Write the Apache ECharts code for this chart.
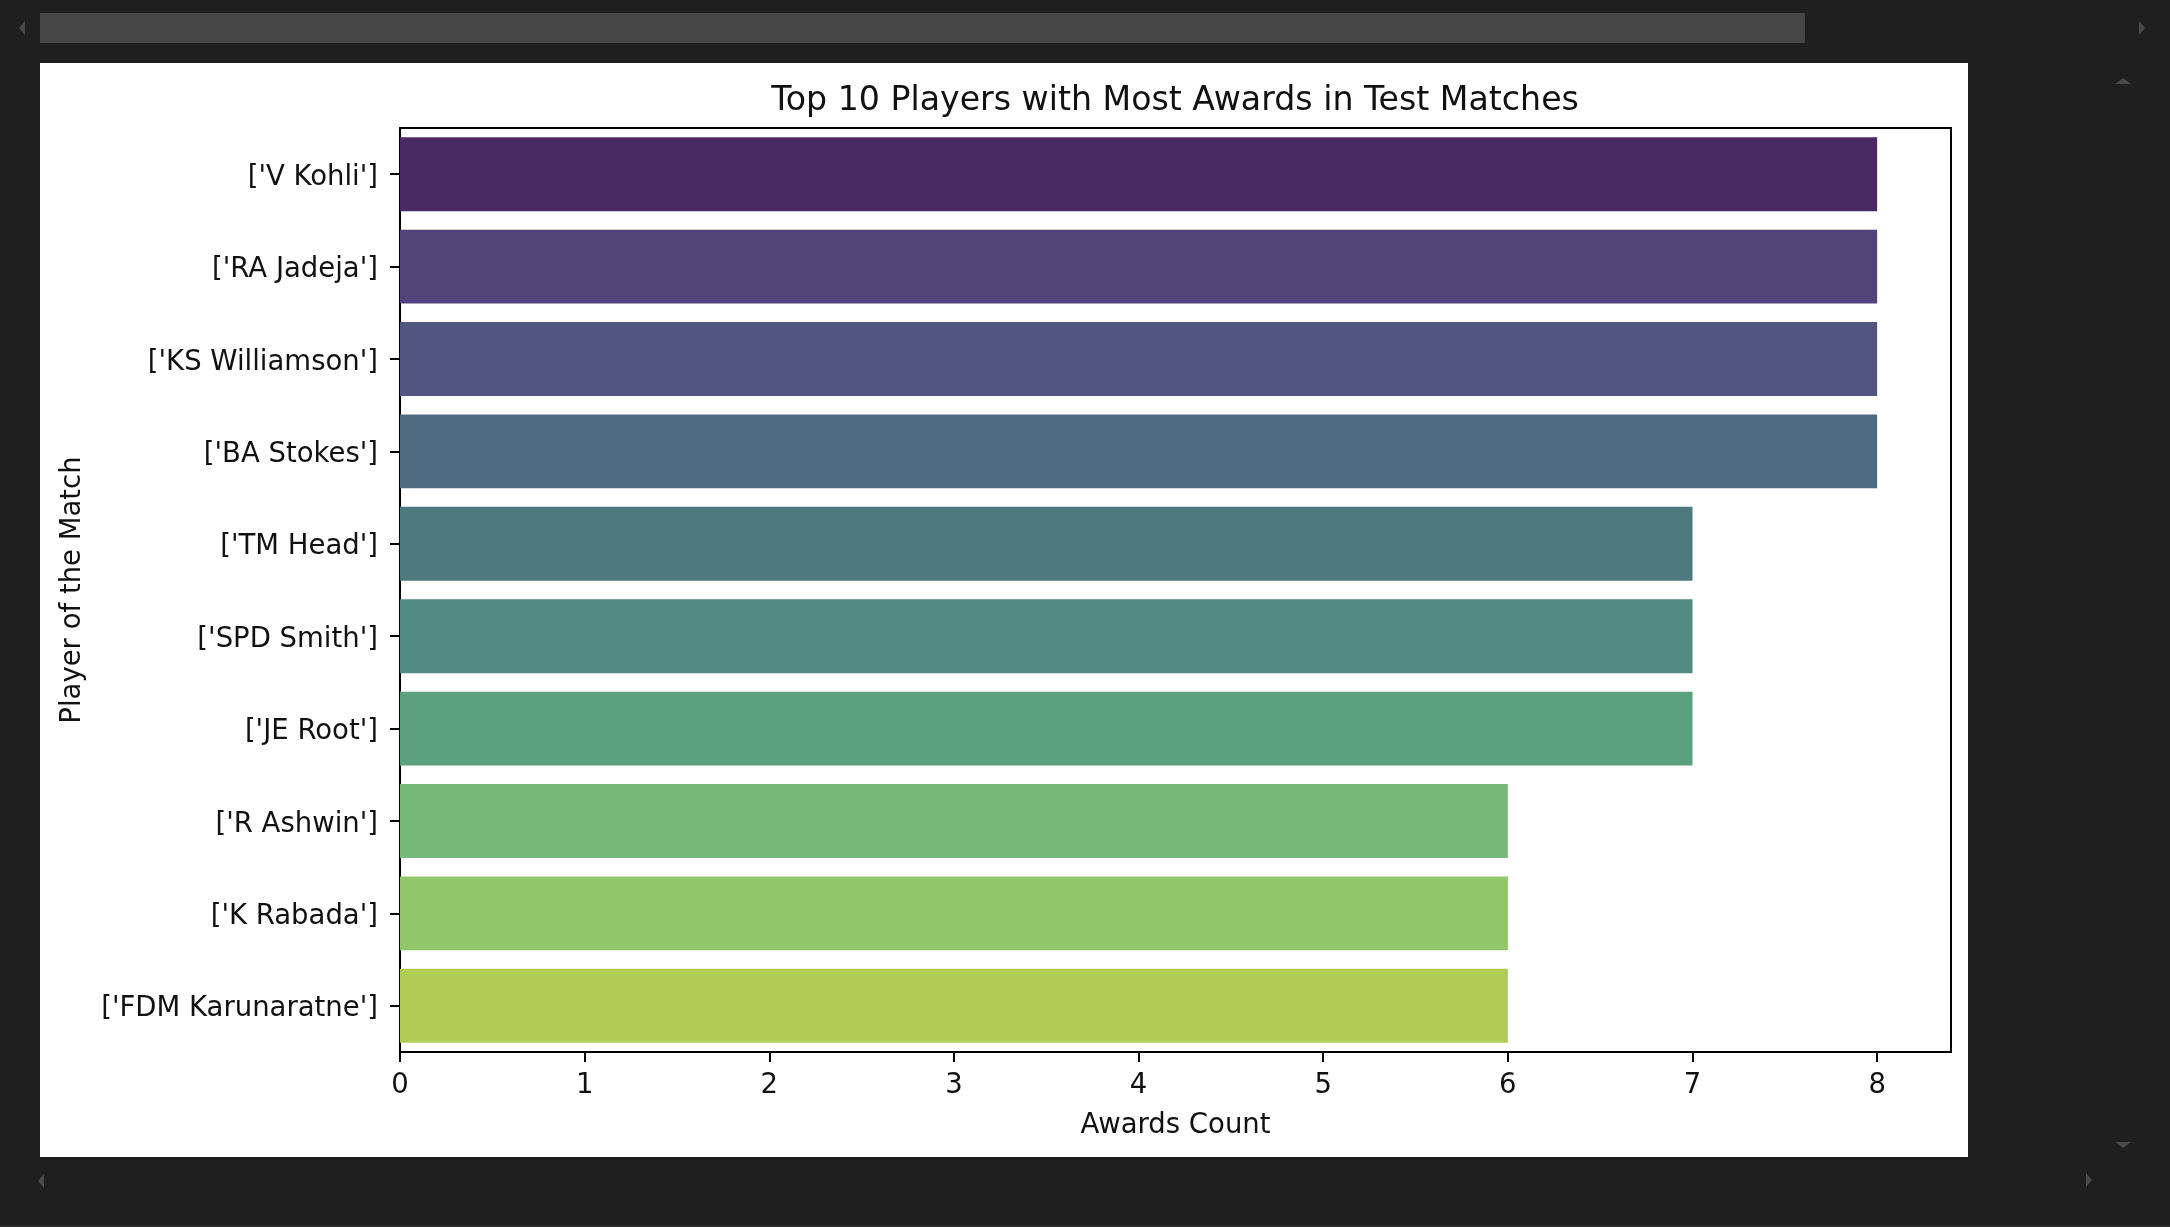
<!DOCTYPE html>
<html lang="en">

<head>
    <meta charset="UTF-8">
    <title>Top 10 Players with Most Awards in Test Matches</title>
    <script src="https://cdn.jsdelivr.net/npm/echarts@6/dist/echarts.min.js"></script>
    <style>
        * {
            margin: 0;
            padding: 0
        }

        html,
        body {
            width: 2170px;
            height: 1227px;
            background: #1f1f1f;
            overflow: hidden;
            position: relative;
        }

        #panel {
            position: absolute;
            left: 40px;
            top: 63px;
            width: 1928px;
            height: 1094px;
            background: #fff;
        }

        #main {
            width: 1928px;
            height: 1094px;
        }

        /* fake notebook scrollbars */
        .thumb {
            position: absolute;
            left: 40px;
            top: 13px;
            width: 1765px;
            height: 30px;
            background: #464646;
        }

        .arr {
            position: absolute;
            width: 0;
            height: 0;
            border-style: solid;
            border-color: transparent;
        }

        .left { border-width: 7px 6px 7px 0; border-right-color: #4a4a4a; }
        .right { border-width: 7px 0 7px 6px; border-left-color: #4a4a4a; }
        .up { border-width: 0 8px 6px 8px; border-bottom-color: #4a4a4a; }
        .down { border-width: 6px 8px 0 8px; border-top-color: #4a4a4a; }

        .strip {
            position: absolute;
            left: 0;
            top: 1225px;
            width: 2170px;
            height: 2px;
            background: #2b2b2b;
        }
    </style>
</head>

<body>
    <div class="thumb"></div>
    <div class="arr left" style="left:19px;top:21px"></div>
    <div class="arr right" style="left:2139px;top:21px"></div>
    <div class="arr up" style="left:2115px;top:78px"></div>
    <div class="arr down" style="left:2115px;top:1142px"></div>
    <div class="arr left" style="left:38px;top:1174px"></div>
    <div class="arr right" style="left:2086px;top:1173px"></div>
    <div class="strip"></div>

    <div id="panel">
        <div id="main"></div>
    </div>

    <script type="text/javascript">
        var players = ["['V Kohli']", "['RA Jadeja']", "['KS Williamson']", "['BA Stokes']", "['TM Head']",
            "['SPD Smith']", "['JE Root']", "['R Ashwin']", "['K Rabada']", "['FDM Karunaratne']"];
        var awards = [8, 8, 8, 8, 7, 7, 7, 6, 6, 6];
        var barColors = ['#4a2864', '#52437a', '#50567f', '#4c6a80', '#4e797e',
            '#508a80', '#5ba27c', '#77b878', '#91c66a', '#afcc55'];
        var xTicks = [0, 1, 2, 3, 4, 5, 6, 7, 8];

        var font = 'DejaVu Sans';
        var ink = '#111';

        var myChart = echarts.init(document.getElementById('main'));

        var option = {
            animation: false,
            backgroundColor: '#fff',
            title: {
                text: 'Top 10 Players with Most Awards in Test Matches',
                left: 1130,
                top: 17,
                textAlign: 'center',
                textStyle: {
                    fontFamily: font,
                    fontSize: 33.2,
                    fontWeight: 'normal',
                    color: ink
                }
            },
            grid: {
                left: 360,
                top: 65,
                width: 1551,
                height: 924,
                show: true,
                borderColor: '#000',
                borderWidth: 2,
                backgroundColor: 'transparent'
            },
            xAxis: {
                type: 'value',
                min: 0,
                max: 8.4,
                interval: 1,
                name: 'Awards Count',
                nameLocation: 'middle',
                nameGap: 60,
                nameTextStyle: { fontFamily: font, fontSize: 27.5, color: ink },
                splitLine: { show: false },
                axisLine: { show: true, lineStyle: { color: '#000', width: 2 } },
                axisTick: { show: true, length: 10, customValues: xTicks, lineStyle: { color: '#000', width: 2 } },
                axisLabel: {
                    customValues: xTicks,
                    margin: 20,
                    fontFamily: font,
                    fontSize: 27.5,
                    color: ink
                }
            },
            yAxis: {
                type: 'category',
                data: players,
                inverse: true,
                name: 'Player of the Match',
                nameLocation: 'middle',
                nameGap: 313,
                nameTextStyle: { fontFamily: font, fontSize: 27.5, color: ink },
                axisLine: { show: true, lineStyle: { color: '#000', width: 2 } },
                axisTick: { show: true, length: 10, alignWithLabel: true, lineStyle: { color: '#000', width: 2 } },
                axisLabel: {
                    margin: 22,
                    formatter: function (v) { return '{a|' + v + '}'; },
                    rich: {
                        a: {
                            padding: [7, 0, 0, 0],
                            fontFamily: font,
                            fontSize: 27.5,
                            color: ink
                        }
                    }
                }
            },
            series: [
                {
                    name: 'Awards',
                    type: 'bar',
                    barCategoryGap: '20%',
                    data: awards.map(function (v, i) {
                        return { value: v, itemStyle: { color: barColors[i] } };
                    })
                }
            ]
        };

        myChart.setOption(option);
    </script>
</body>

</html>
